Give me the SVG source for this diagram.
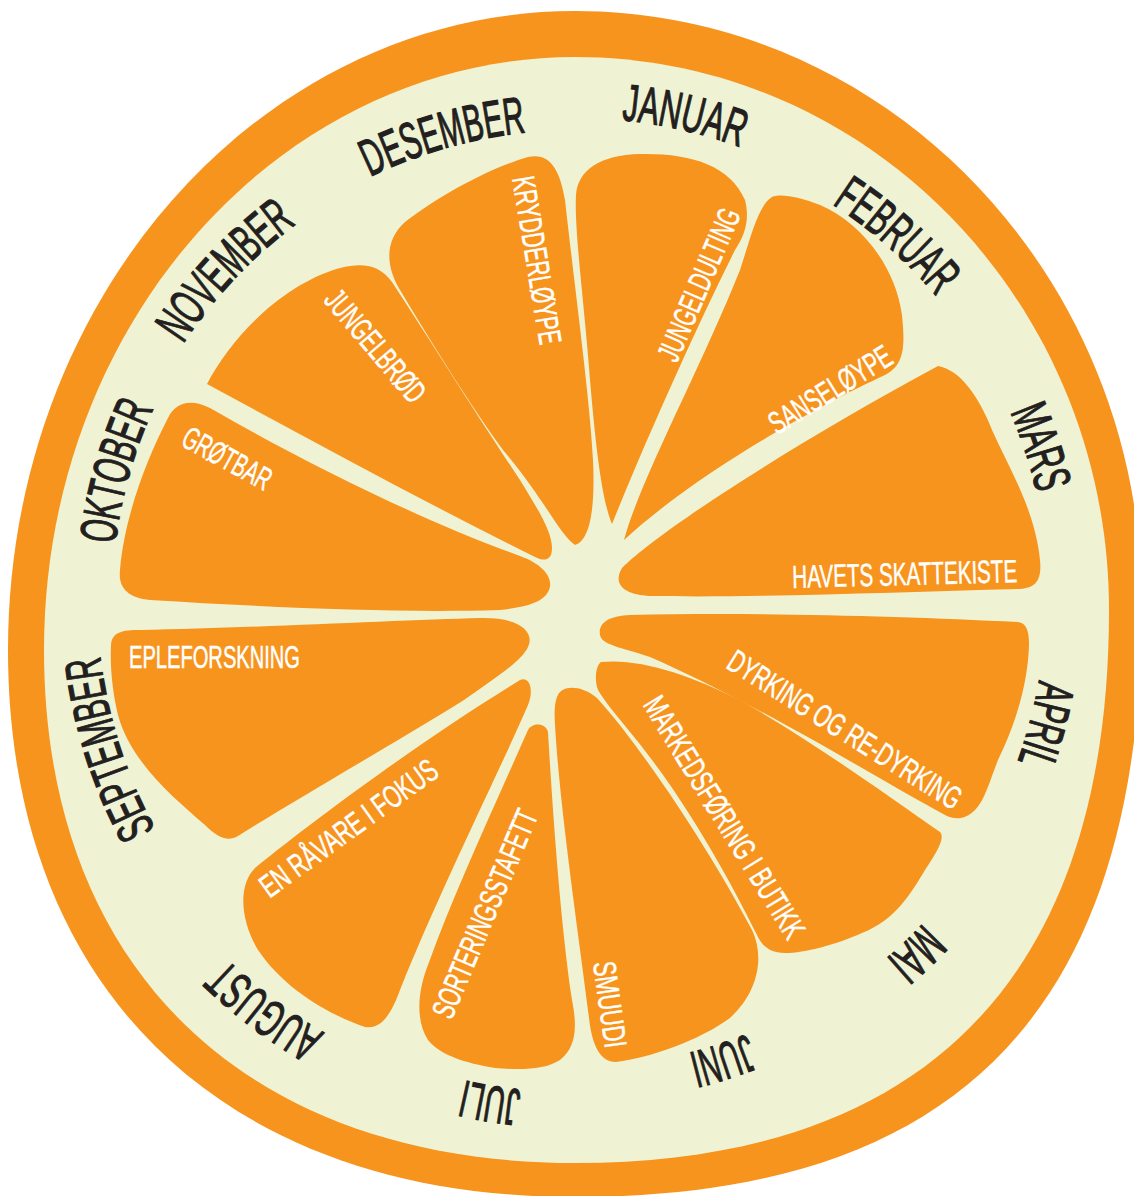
<svg xmlns="http://www.w3.org/2000/svg" width="1134" height="1196" viewBox="0 0 1134 1196">
<style>
.rind{fill:#F7941D}
.flesh{fill:#EFF3D3}
.seg{fill:#F7941D}
.m{font-family:'Liberation Sans Narrow','Liberation Sans',Arial,sans-serif;font-size:52px;fill:#231F20;stroke:#231F20;stroke-width:1.2px;text-anchor:middle}
.s{font-family:'Liberation Sans Narrow','Liberation Sans',Arial,sans-serif;font-size:32px;fill:#FFFFFF;stroke:#FFFFFF;stroke-width:0.5px;text-anchor:middle}
</style>
<defs>
<path id="aJan" d="M318.1,192.1 A482,482 0 0 1 982.9,343.1"/>
<path id="aFeb" d="M546.2,128.9 A472,472 0 0 1 1046.1,571.2"/>
<path id="aMar" d="M788.7,176.9 A474,474 0 0 1 998.1,813.7"/>
<path id="aApr" d="M982.5,363.8 A471,471 0 0 1 811.2,1007.5"/>
<path id="aMai" d="M1049.9,608.3 A475,475 0 0 1 566.7,1074.9"/>
<path id="aJun" d="M990.3,813.5 A467,467 0 0 1 361.5,1015.3"/>
<path id="aJul" d="M860.6,1001.8 A493,493 0 0 1 173.2,885.6"/>
<path id="aAug" d="M643.7,1095.3 A500,500 0 0 1 79.7,668.7"/>
<path id="aSep" d="M355.7,1024.8 A478,478 0 0 1 150.2,380.7"/>
<path id="aOkt" d="M171.2,826.6 A463,463 0 0 1 348.4,196.2"/>
<path id="aNov" d="M107.2,613.9 A468,468 0 0 1 561.1,132.2"/>
<path id="aDes" d="M164.3,371.4 A470,470 0 0 1 803.6,189.3"/>
</defs>
<g id="slice">
<path class="rind" d="M575,11 C888.2,11 1142,276.5 1142,604 C1142,1007 960.6,1197 575,1197 C223.5,1197 8,989 8,650 C8,297 261.8,11 575,11 Z"/>
<path class="flesh" d="M575,57 C869.9,57 1109,304.6 1109,610 C1109,975 927,1163 575,1163 C245.8,1163 44,968 44,650 C44,322.5 281.7,57 575,57 Z"/>
</g>
<g id="connectors"></g>
<g id="seg-januar">
<path class="seg" d="M612,524 C602,500 596,450 590,380 C585,310 574,230 576,195 C578,170 600,155 640,154 C690,153 730,165 745,200 C750,220 745,235 735,250 C700,320 650,430 612,524 Z"/>
<text class="s" transform="translate(709,289) rotate(-66.7)" textLength="163" lengthAdjust="spacingAndGlyphs">JUNGELDULTING</text>
<text class="m"><textPath href="#aJan" startOffset="50%" textLength="122" lengthAdjust="spacingAndGlyphs">JANUAR</textPath></text>
</g>
<g id="seg-februar">
<path class="seg" d="M624,540 C640,480 700,370 740,270 C750,240 758,205 772,197 C780,193 800,197 820,205 C860,222 895,265 902,315 C905,345 905,365 885,375 C820,405 700,470 624,540 Z"/>
<text class="s" transform="translate(836,399) rotate(-31.8)" textLength="139" lengthAdjust="spacingAndGlyphs">SANSELØYPE</text>
<text class="m"><textPath href="#aFeb" startOffset="50%" textLength="140" lengthAdjust="spacingAndGlyphs">FEBRUAR</textPath></text>
</g>
<g id="seg-mars">
<path class="seg" d="M938,366 C960,370 978,395 992,430 C1010,470 1035,510 1040,560 C1042,580 1036,588 1020,589 C900,592 760,598 650,596 C625,595 612,585 622,568 C660,530 800,440 938,366 Z"/>
<text class="s" transform="translate(905,585) rotate(-1.5)" textLength="225" lengthAdjust="spacingAndGlyphs">HAVETS SKATTEKISTE</text>
<text class="m"><textPath href="#aMar" startOffset="50%" textLength="86" lengthAdjust="spacingAndGlyphs">MARS</textPath></text>
</g>
<g id="seg-april">
<path class="seg" d="M600,635 C598,622 610,616 630,615 C750,612 900,616 1018,622 C1030,623 1030,640 1028,660 C1024,700 1010,735 998,760 C990,780 985,800 975,810 C965,820 955,820 945,815 C880,780 760,705 650,657 C620,647 602,645 600,635 Z"/>
<text class="s" transform="translate(839,739) rotate(32.1)" textLength="270" lengthAdjust="spacingAndGlyphs">DYRKING OG RE-DYRKING</text>
<text class="m"><textPath href="#aApr" startOffset="50%" textLength="84" lengthAdjust="spacingAndGlyphs">APRIL</textPath></text>
</g>
<g id="seg-mai">
<path class="seg" d="M601,662 C640,658 690,675 740,700 C810,740 880,790 940,832 C946,838 935,855 925,870 C910,895 895,920 862,933 C835,945 805,953 785,953 C770,953 762,946 757,935 C730,880 690,810 652,760 C630,730 610,710 598,690 C594,680 596,665 601,662 Z"/>
<text class="s" transform="translate(715,823) rotate(58.4)" textLength="278" lengthAdjust="spacingAndGlyphs">MARKEDSFØRING I BUTIKK</text>
<text class="m"><textPath href="#aMai" startOffset="50%" textLength="52" lengthAdjust="spacingAndGlyphs">MAI</textPath></text>
</g>
<g id="seg-juni">
<path class="seg" d="M558,695 C562,686 580,684 597,698 C640,745 710,850 752,930 C764,955 760,990 730,1018 C700,1040 650,1058 616,1062 C600,1062 592,1045 589,1018 C578,930 560,810 555,725 C554,710 555,700 558,695 Z"/>
<text class="s" transform="translate(599,1006) rotate(82)" textLength="87" lengthAdjust="spacingAndGlyphs">SMUUDI</text>
<text class="m"><textPath href="#aJun" startOffset="50%" textLength="62" lengthAdjust="spacingAndGlyphs">JUNI</textPath></text>
</g>
<g id="seg-juli">
<path class="seg" d="M528,730 C532,723 545,722 548,732 C552,800 560,920 572,1000 C578,1030 575,1048 560,1060 C545,1070 520,1070 495,1068 C465,1063 440,1055 428,1040 C415,1020 418,990 428,965 C455,890 495,805 528,730 Z"/>
<text class="s" transform="translate(495,918) rotate(-67)" textLength="223" lengthAdjust="spacingAndGlyphs">SORTERINGSSTAFETT</text>
<text class="m"><textPath href="#aJul" startOffset="50%" textLength="58" lengthAdjust="spacingAndGlyphs">JULI</textPath></text>
</g>
<g id="seg-august">
<path class="seg" d="M520,680 C530,676 534,690 528,705 C500,770 440,890 400,990 C392,1012 382,1030 365,1027 C330,1015 285,990 258,950 C240,920 238,885 255,868 C320,815 430,735 520,680 Z"/>
<text class="s" transform="translate(355,837) rotate(-35.8)" textLength="211" lengthAdjust="spacingAndGlyphs">EN RÅVARE I FOKUS</text>
<text class="m"><textPath href="#aAug" startOffset="50%" textLength="123" lengthAdjust="spacingAndGlyphs">AUGUST</textPath></text>
</g>
<g id="seg-september">
<path class="seg" d="M111,645 C112,632 122,630 140,630 C250,628 400,620 480,618 C520,617 535,632 528,647 C522,660 500,675 464,700 C400,740 300,797 238,836 C228,842 218,838 205,825 C170,795 130,760 118,715 C112,690 110,665 111,645 Z"/>
<text class="s" x="129" y="668" style="text-anchor:start" textLength="171" lengthAdjust="spacingAndGlyphs">EPLEFORSKNING</text>
<text class="m"><textPath href="#aSep" startOffset="50%" textLength="183" lengthAdjust="spacingAndGlyphs">SEPTEMBER</textPath></text>
</g>
<g id="seg-oktober">
<path class="seg" d="M168,418 C175,403 190,398 210,408 C300,460 420,520 520,556 C545,565 555,580 548,592 C542,603 525,607 500,610 C400,613 280,608 150,600 C128,598 118,588 120,570 C124,520 145,462 168,418 Z"/>
<text class="s" transform="translate(222,468) rotate(28.7)" textLength="97" lengthAdjust="spacingAndGlyphs">GRØTBAR</text>
<text class="m"><textPath href="#aOkt" startOffset="50%" textLength="142" lengthAdjust="spacingAndGlyphs">OKTOBER</textPath></text>
</g>
<g id="seg-november">
<path class="seg" d="M207,384 C230,340 280,285 340,268 C365,262 380,266 392,282 C430,340 480,420 520,480 C535,505 552,530 552,548 C552,560 545,562 535,557 C430,505 320,445 207,384 Z"/>
<text class="s" transform="translate(367,353) rotate(49.7)" textLength="137" lengthAdjust="spacingAndGlyphs">JUNGELBRØD</text>
<text class="m"><textPath href="#aNov" startOffset="50%" textLength="166" lengthAdjust="spacingAndGlyphs">NOVEMBER</textPath></text>
</g>
<g id="seg-desember">
<path class="seg" d="M575,545 C560,535 545,500 503,450 C470,405 430,340 400,290 C385,265 385,240 405,222 C440,195 490,168 528,157 C550,152 560,170 565,200 C575,290 590,400 593,460 C595,500 592,540 575,545 Z"/>
<text class="s" transform="translate(526,262) rotate(80.6)" textLength="170" lengthAdjust="spacingAndGlyphs">KRYDDERLØYPE</text>
<text class="m"><textPath href="#aDes" startOffset="50%" textLength="163" lengthAdjust="spacingAndGlyphs">DESEMBER</textPath></text>
</g>
</svg>
